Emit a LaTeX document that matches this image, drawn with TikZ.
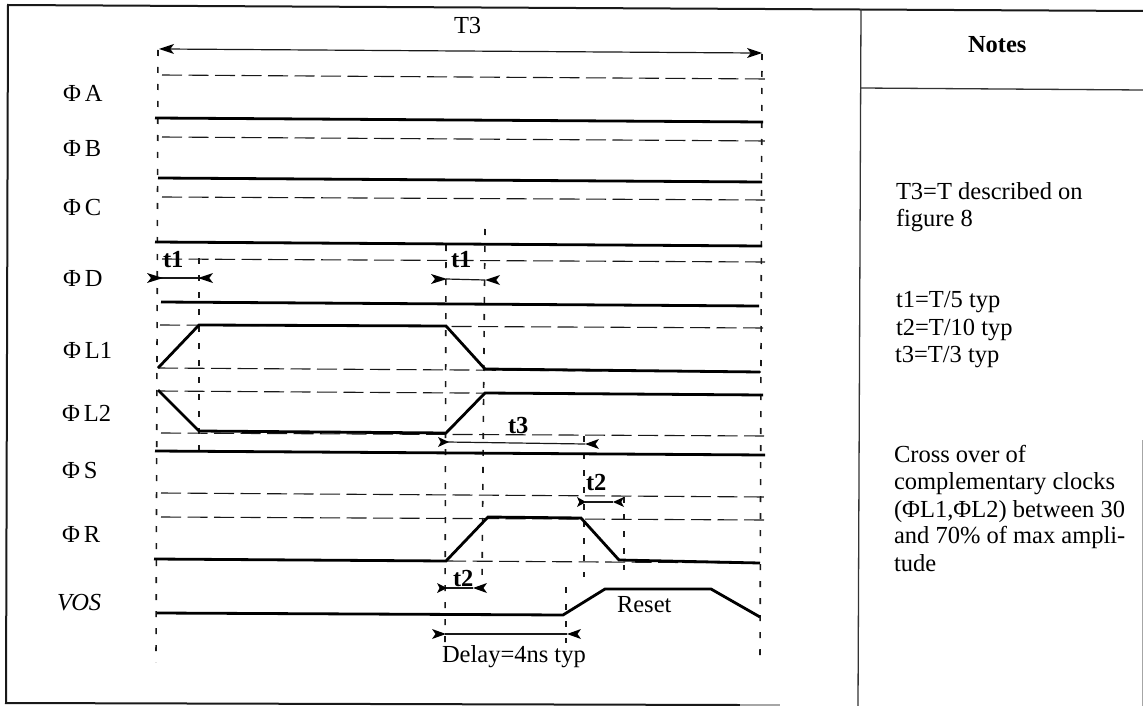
\documentclass[tikz,border=0pt]{standalone}
\usepackage{fontspec}
\setmainfont{Liberation Serif}
\usetikzlibrary{arrows.meta,calc}
\tikzset{
  frameline/.style={line width=2pt,draw=black!90},
  thinframe/.style={line width=1.3pt,draw=black!80},
  sig/.style={line width=2.8pt,line join=miter,draw=black},
  hdash/.style={line width=1.1pt,dash pattern=on 20pt off 6.5pt,draw=black!90},
  vdash/.style={line width=1.6pt,dash pattern=on 6pt off 11pt,draw=black!90},
  dimline/.style={line width=1.2pt,draw=black!90},
  head/.style={line width=0pt,draw=none,fill=black},
  lbl/.style={anchor=base west,inner sep=0pt,outer sep=0pt,font=\fontsize{24.5}{27}\selectfont},
  blbl/.style={lbl,font=\fontsize{24.5}{27}\selectfont\bfseries},
  ilbl/.style={lbl,font=\fontsize{24.5}{27}\selectfont\itshape},
}
\newcommand{\arrowhd}[3]{% tail x, tip x, y
  \fill[head] (#1,#3-5) -- (#2,#3) -- (#1,#3+5) -- ($(#1,#3)!0.25!(#2,#3)$) -- cycle;}
\begin{document}
\begin{tikzpicture}[x=1pt,y=-1pt]
\useasboundingbox (0,0) rectangle (1143,706);
% frame
\draw[frameline] (1143,11) -- (8,5) -- (6,703) -- (740,705);
\draw[line width=1.5pt,draw=black!35] (740,705) -- (780,705);
\draw[thinframe] (861,9) -- (858,706);
\draw[thinframe] (861,88) -- (1143,90);
\draw[line width=.8pt,draw=black!35] (1142,440) -- (1142,706);
% vertical dashed guides
\draw[vdash] (158,50) -- (156,662);
\draw[vdash] (762,54) -- (760,662);
\draw[vdash] (199,258) -- (199,456);
\draw[vdash] (446,245) -- (445,643);
\draw[vdash] (485,229) -- (482,587);
\draw[vdash] (584,436) -- (584,577);
\draw[vdash] (624,497) -- (624,570);
\draw[vdash] (566,587) -- (566,643);
% dashed levels
\draw[hdash] (162,75) -- (766,79);
\draw[hdash] (162,137) -- (766,141);
\draw[hdash] (162,197) -- (766,200);
\draw[hdash] (162,259) -- (766,262);
\draw[hdash] (160,325) -- (766,328);
\draw[hdash] (158,368) -- (766,372);
\draw[hdash] (158,391) -- (767,395);
\draw[hdash] (161,433) -- (766,436);
\draw[hdash] (161,493) -- (765,497);
\draw[hdash] (161,517) -- (765,520);
\draw[hdash] (446,561) -- (763,563);
% signals
\draw[sig] (155,118) -- (763,122);
\draw[sig] (158,178) -- (762,182);
\draw[sig] (155,242) -- (762,246);
\draw[sig] (161,302) -- (759,306);
\draw[sig] (158,368) -- (199,325) -- (446,326) -- (485,369) -- (760,372);
\draw[sig] (158,390) -- (199,431) -- (446,433) -- (485,393) -- (763,395);
\draw[sig] (155,451) -- (765,455);
\draw[sig] (154,559) -- (446,561) -- (488,517) -- (581,518) -- (619,560) -- (760,563);
\draw[sig] (157,613) -- (563,615) -- (605,589) -- (711,589) -- (760,617);
% dimension lines and heads
\draw[dimline] (165,49) -- (755,53);
\arrowhd{174}{159}{49}\arrowhd{747}{762}{53}
\draw[dimline] (157,278) -- (199,278);
\arrowhd{147}{163}{278}\arrowhd{213}{198}{278}
\draw[dimline] (446,279) -- (485,280);
\arrowhd{431}{447}{279}\arrowhd{500}{485}{280}
\draw[dimline] (447,442) -- (585,444);
\arrowhd{438}{449}{442}\arrowhd{599}{585}{444}
\draw[dimline] (585,502) -- (613,502);
\arrowhd{577}{586}{502}\arrowhd{624}{613}{502}
\draw[dimline] (446,588) -- (473,588);
\arrowhd{437}{447}{588}\arrowhd{487}{473}{588}
\draw[dimline] (445,634) -- (567,634);
\arrowhd{432}{446}{634}\arrowhd{581}{567}{634}
% left labels
\node[lbl] (lA) at (63,102) {Φ\,A};
\node[lbl] (lB) at (63,157) {Φ\,B};
\node[lbl] (lC) at (63,215) {Φ\,C};
\node[lbl] (lD) at (63,286) {Φ\,D};
\node[lbl] (lLa) at (63,358) {Φ\,L1};
\node[lbl] (lLb) at (62,421) {Φ\,L2};
\node[lbl] (lS) at (62,478) {Φ\,S};
\node[lbl] (lR) at (62,542) {Φ\,R};
\node[ilbl] (lV) at (57,610) {VOS};
% diagram labels
\node[lbl] (T) at (454,34) {T3};
\node[blbl] (ta) at (163,267) {t1};
\node[blbl] (tb) at (451,267) {t1};
\node[blbl] (tc) at (508,433) {t3};
\node[blbl] (td) at (586,490) {t2};
\node[blbl] (te) at (453,586) {t2};
\node[lbl] (res) at (617,612) {Reset};
\node[lbl] (del) at (442,662) {Delay=4ns typ};
% notes
\node[blbl] (notes) at (968,53) {Notes};
\node[lbl] (n1) at (896,199) {T3=T described on};
\node[lbl] (n2) at (896,226) {figure 8};
\node[lbl] (n3) at (896,307) {t1=T/5 typ};
\node[lbl] (n4) at (896,335) {t2=T/10 typ};
\node[lbl] (n5) at (895,362) {t3=T/3 typ};
\node[lbl] (n6) at (894,462) {Cross over of};
\node[lbl] (n7) at (894,489) {complementary clocks};
\node[lbl] (n8) at (894,517) {(ΦL1,ΦL2) between 30};
\node[lbl] (n9) at (894,543) {and 70\% of max ampli-};
\node[lbl] (n10) at (894,571) {tude};
\end{tikzpicture}
\end{document}
